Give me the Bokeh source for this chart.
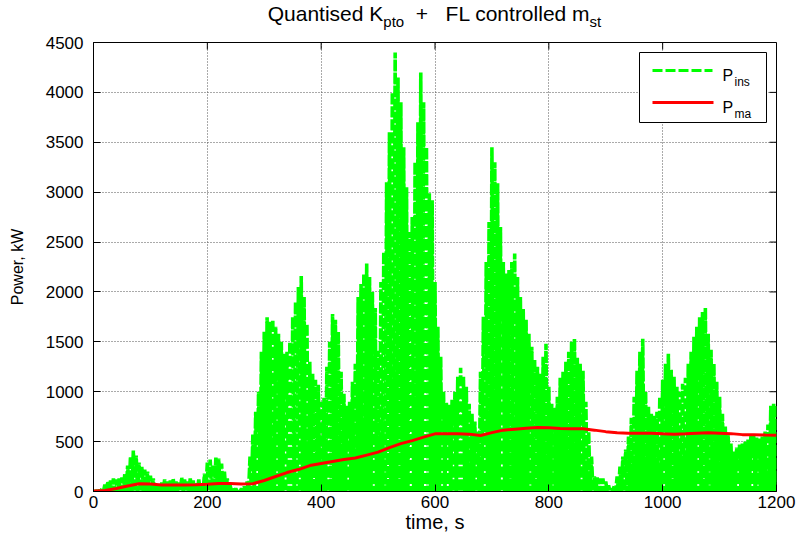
from bokeh.plotting import figure
from bokeh.models import Range1d, FixedTicker, Label, Div
from bokeh.layouts import column
from bokeh.embed import file_html
from bokeh.resources import INLINE

# ---------------- data ----------------
x_ticks = [0, 200, 400, 600, 800, 1000, 1200]
y_ticks = [0, 500, 1000, 1500, 2000, 2500, 3000, 3500, 4000, 4500]

# sample times of the P_ins wave crests (s)
t_crest = list(range(0, 1201, 5))
# crest heights of the instantaneous power P_ins (kW)
p_ins_crest = [
    0, 5, 10, 30, 70, 100, 110, 130, 120, 130,
    140, 180, 260, 350, 410, 360, 290, 250, 220, 200,
    160, 130, 60, 50, 90, 120, 100, 110, 130, 100,
    90, 140, 120, 100, 130, 110, 90, 120, 80, 180,
    290, 320, 270, 340, 330, 280, 200, 130, 60, 40,
    30, 20, 30, 50, 100, 350, 570, 800, 1000, 1400,
    1600, 1745, 1700, 1720, 1650, 1580, 1500, 1380, 1400, 1500,
    1750, 1900, 2050, 2160, 1950, 1680, 1300, 1180, 1120, 1070,
    900, 940, 1250, 1500, 1780, 1720, 1600, 1200, 980, 860,
    900, 1100, 1280, 1950, 2080, 2180, 2285, 2150, 2000, 1840,
    1410, 2100, 2400, 3100, 3600, 4000, 4400, 4150, 3900, 3450,
    3050, 2600, 2750, 3300, 3700, 4200, 3900, 3450, 2990, 2920,
    2100, 1650, 1350, 1000, 890, 870, 920, 1000, 1150, 1240,
    1150, 1050, 880, 780, 700, 600, 1200, 1750, 2300, 2700,
    3450, 3300, 3090, 2650, 2300, 2185, 2220, 2300, 2385, 2150,
    1950, 1830, 1720, 1580, 1450, 1320, 1250, 1180, 1350, 1480,
    1050, 880, 840, 950, 1140, 1200, 1300, 1400, 1500, 1530,
    1340, 1280, 1210, 900, 600, 350, 150, 140, 130, 130,
    100, 60, 30, 60, 150, 250, 350, 420, 550, 740,
    950, 1210, 1400, 1530, 1000, 850, 780, 760, 800, 950,
    1120, 1280, 1380, 1220, 1150, 1050, 1000, 1080, 1140, 1280,
    1400, 1550, 1650, 1745, 1800, 1840, 1580, 1420, 1280, 1100,
    950, 780, 650, 580, 480, 400, 440, 470, 480, 500,
    520, 570, 570, 540, 530, 550, 600, 670, 860, 880,
    870,
]
# troughs between crests (kW)
p_ins_trough = [0] * len(t_crest)

# moving-average power P_ma (kW)
t_ma = list(range(0, 1201, 20))
p_ma = [
    5, 10, 30, 55, 78, 75, 65, 65, 65, 68,
    72, 80, 80, 75, 78, 110, 150, 190, 220, 260,
    280, 300, 320, 335, 365, 395, 440, 480, 510, 545,
    578, 578, 578, 575, 562, 590, 615, 625, 635, 642,
    640, 632, 630, 628, 615, 600, 590, 585, 585, 583,
    578, 575, 578, 585, 588, 585, 580, 570, 570, 567,
    565,
]

# interleave crests and troughs into one oscillating signal
t_ins, p_ins = [], []
for i in range(len(t_crest)):
    t_ins.append(t_crest[i])
    p_ins.append(p_ins_crest[i])
    if i < len(t_crest) - 1:
        t_ins.append((t_crest[i] + t_crest[i + 1]) / 2)
        p_ins.append(p_ins_trough[i])

# ---------------- layout ----------------
W, H = 799, 537
TITLE_H = 30
FL, FR, FT, FB = 93, 776, 42, 491   # frame edges in page pixels
XMAX, YMAX = 1200, 4500
FONT = "Liberation Sans"


def dx(px):
    return (px - FL) / (FR - FL) * XMAX


def dy(py):
    return (FB - py) / (FB - FT) * YMAX


title_html = (
    '<div style="position:relative;width:%dpx;height:%dpx;overflow:visible;">'
    '<div style="position:absolute;left:%dpx;width:%dpx;top:3px;text-align:center;'
    "font-family:'Liberation Sans',Arial,sans-serif;font-size:21px;line-height:21px;"
    'color:#000;white-space:pre;overflow:visible;">'
    'Quantised K<span style="font-size:15px;position:relative;top:6px;">pto</span>'
    '  +   FL controlled m<span style="font-size:15px;position:relative;top:6px;">st</span>'
    '</div></div>'
) % (W, TITLE_H, FL, FR - FL)
title_div = Div(text=title_html, width=W, height=TITLE_H, margin=(0, 0, 0, 0),
                styles={"overflow": "visible"})

p = figure(width=W, height=H - TITLE_H, output_backend="svg", toolbar_location=None,
           x_range=Range1d(0, XMAX), y_range=Range1d(0, YMAX),
           min_border_left=FL, min_border_right=W - FR,
           min_border_top=FT - TITLE_H, min_border_bottom=H - FB,
           background_fill_color="white", border_fill_alpha=0.0,
           margin=(0, 0, 0, 0))
p.outline_line_color = "black"
p.outline_line_width = 1

for ax in (p.xaxis[0], p.yaxis[0]):
    ax.axis_line_color = "black"
    ax.major_tick_in = 7
    ax.major_tick_out = 0
    ax.minor_tick_line_color = None
    ax.major_tick_line_color = "black"
    ax.major_label_text_font = FONT
    ax.major_label_text_font_size = "17px"
    ax.major_label_text_color = "black"
    ax.axis_label_text_font = FONT
    ax.axis_label_text_font_style = "normal"
    ax.axis_label_text_color = "black"

p.xaxis.ticker = FixedTicker(ticks=x_ticks)
p.yaxis.ticker = FixedTicker(ticks=y_ticks)
p.xaxis.axis_label = "time, s"
p.yaxis.axis_label = "Power, kW"
p.xaxis.axis_label_text_font_size = "20px"
p.yaxis.axis_label_text_font_size = "16px"
p.xaxis.major_label_standoff = 4
p.xaxis.axis_label_standoff = 0
p.yaxis.major_label_standoff = 10
p.yaxis.axis_label_standoff = 17

p.grid.grid_line_color = "#555555"
p.grid.grid_line_dash = "1 2"
p.grid.grid_line_width = 1
p.xgrid.ticker = FixedTicker(ticks=x_ticks)
p.ygrid.ticker = FixedTicker(ticks=y_ticks)

# inward tick marks on the top and right edges of the box
p.segment(x0=x_ticks, y0=[YMAX] * len(x_ticks), x1=x_ticks, y1=[dy(FT + 7)] * len(x_ticks),
          line_color="black", line_width=1)
p.segment(x0=[XMAX] * len(y_ticks), y0=y_ticks, x1=[dx(FR - 7)] * len(y_ticks), y1=y_ticks,
          line_color="black", line_width=1)

# data
p.line(t_ins, p_ins, line_color="#00ff00", line_width=3.6, line_dash="11 2")
p.line(t_ma, p_ma, line_color="#ff0000", line_width=3)

# legend (drawn by hand for subscripts)
p.quad(left=[dx(639)], right=[dx(766)], top=[dy(52)], bottom=[dy(122)],
       fill_color="white", line_color="black", line_width=1)
p.line([dx(652), dx(712)], [dy(70), dy(70)], line_color="#00ff00", line_width=3, line_dash="10 3")
p.line([dx(652), dx(713)], [dy(102), dy(102)], line_color="#ff0000", line_width=3)


def txt(s, px, py, size):
    p.add_layout(Label(x=dx(px), y=dy(py), text=s, text_font=FONT,
                       text_font_size=size, text_color="black",
                       text_baseline="alphabetic", text_align="left"))


txt("P", 722, 75, "16px")
txt("ins", 734, 81, "12px")
txt("P", 722, 107, "16px")
txt("ma", 734, 113, "12px")

layout = column(title_div, p, spacing=0, margin=(0, 0, 0, 0))
open("out.html", "w").write(file_html(layout, INLINE))
